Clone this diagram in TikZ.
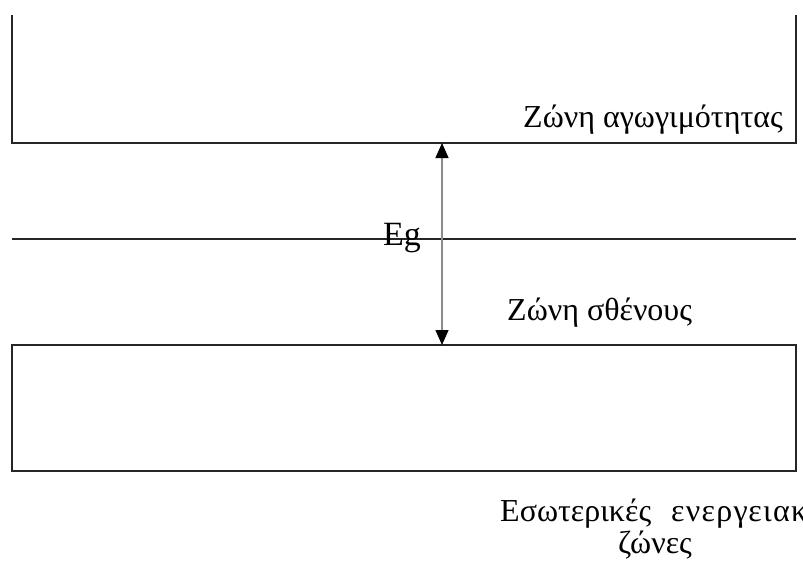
\documentclass[tikz,border=0pt]{standalone}
\usepackage{fontspec}
\setmainfont{Liberation Serif}
\newfontfamily\widegreek[LetterSpace=4]{Liberation Serif}
\usetikzlibrary{arrows.meta}
\tikzset{
  band/.style={draw=black!85, line width=1.3pt},
  lbl/.style={inner sep=0pt, font=\fontsize{32}{36}\selectfont},
  gap/.style={draw=black!45, line width=1.4pt, {Triangle[length=15pt,width=13pt,fill=black,color=black]}-{Triangle[length=15pt,width=13pt,fill=black,color=black]}}
}
\begin{document}
\begin{tikzpicture}[x=1pt,y=-1pt]
\useasboundingbox (0,0) rectangle (803,565);
\clip (0,0) rectangle (803,565);
% conduction band (open top)
\coordinate (ctl) at (12,15);
\coordinate (cbl) at (12,143);
\coordinate (cbr) at (796,143);
\coordinate (ctr) at (796,15);
\draw[band] (ctl) -- (cbl) -- (cbr) -- (ctr);
% middle level
\coordinate (ml) at (12,239);
\coordinate (mr) at (796,239);
\draw[band] (ml) -- (mr);
% valence band
\coordinate (vtl) at (12,345);
\coordinate (vbr) at (796,471);
\draw[band] (vtl) rectangle (vbr);
% gap arrow
\coordinate (atop) at (442,143);
\coordinate (abot) at (442,345);
\draw[gap] (atop) -- (abot);
% labels
\node[lbl, anchor=base, font=\fontsize{34}{38}\selectfont] (eg) at (402,245) {Eg};
\node[lbl, anchor=base east] (cb) at (783,127) {Ζώνη αγωγιμότητας};
\node[lbl, anchor=base west] (vb) at (507,320) {Ζώνη σθένους};
\node[lbl, anchor=base west] (ib) at (500,521) {Εσωτερικές\hspace{20pt}{\widegreek ενεργειακές}};
\node[lbl, anchor=base] (ib2) at (655,553) {ζώνες};
\end{tikzpicture}
\end{document}
